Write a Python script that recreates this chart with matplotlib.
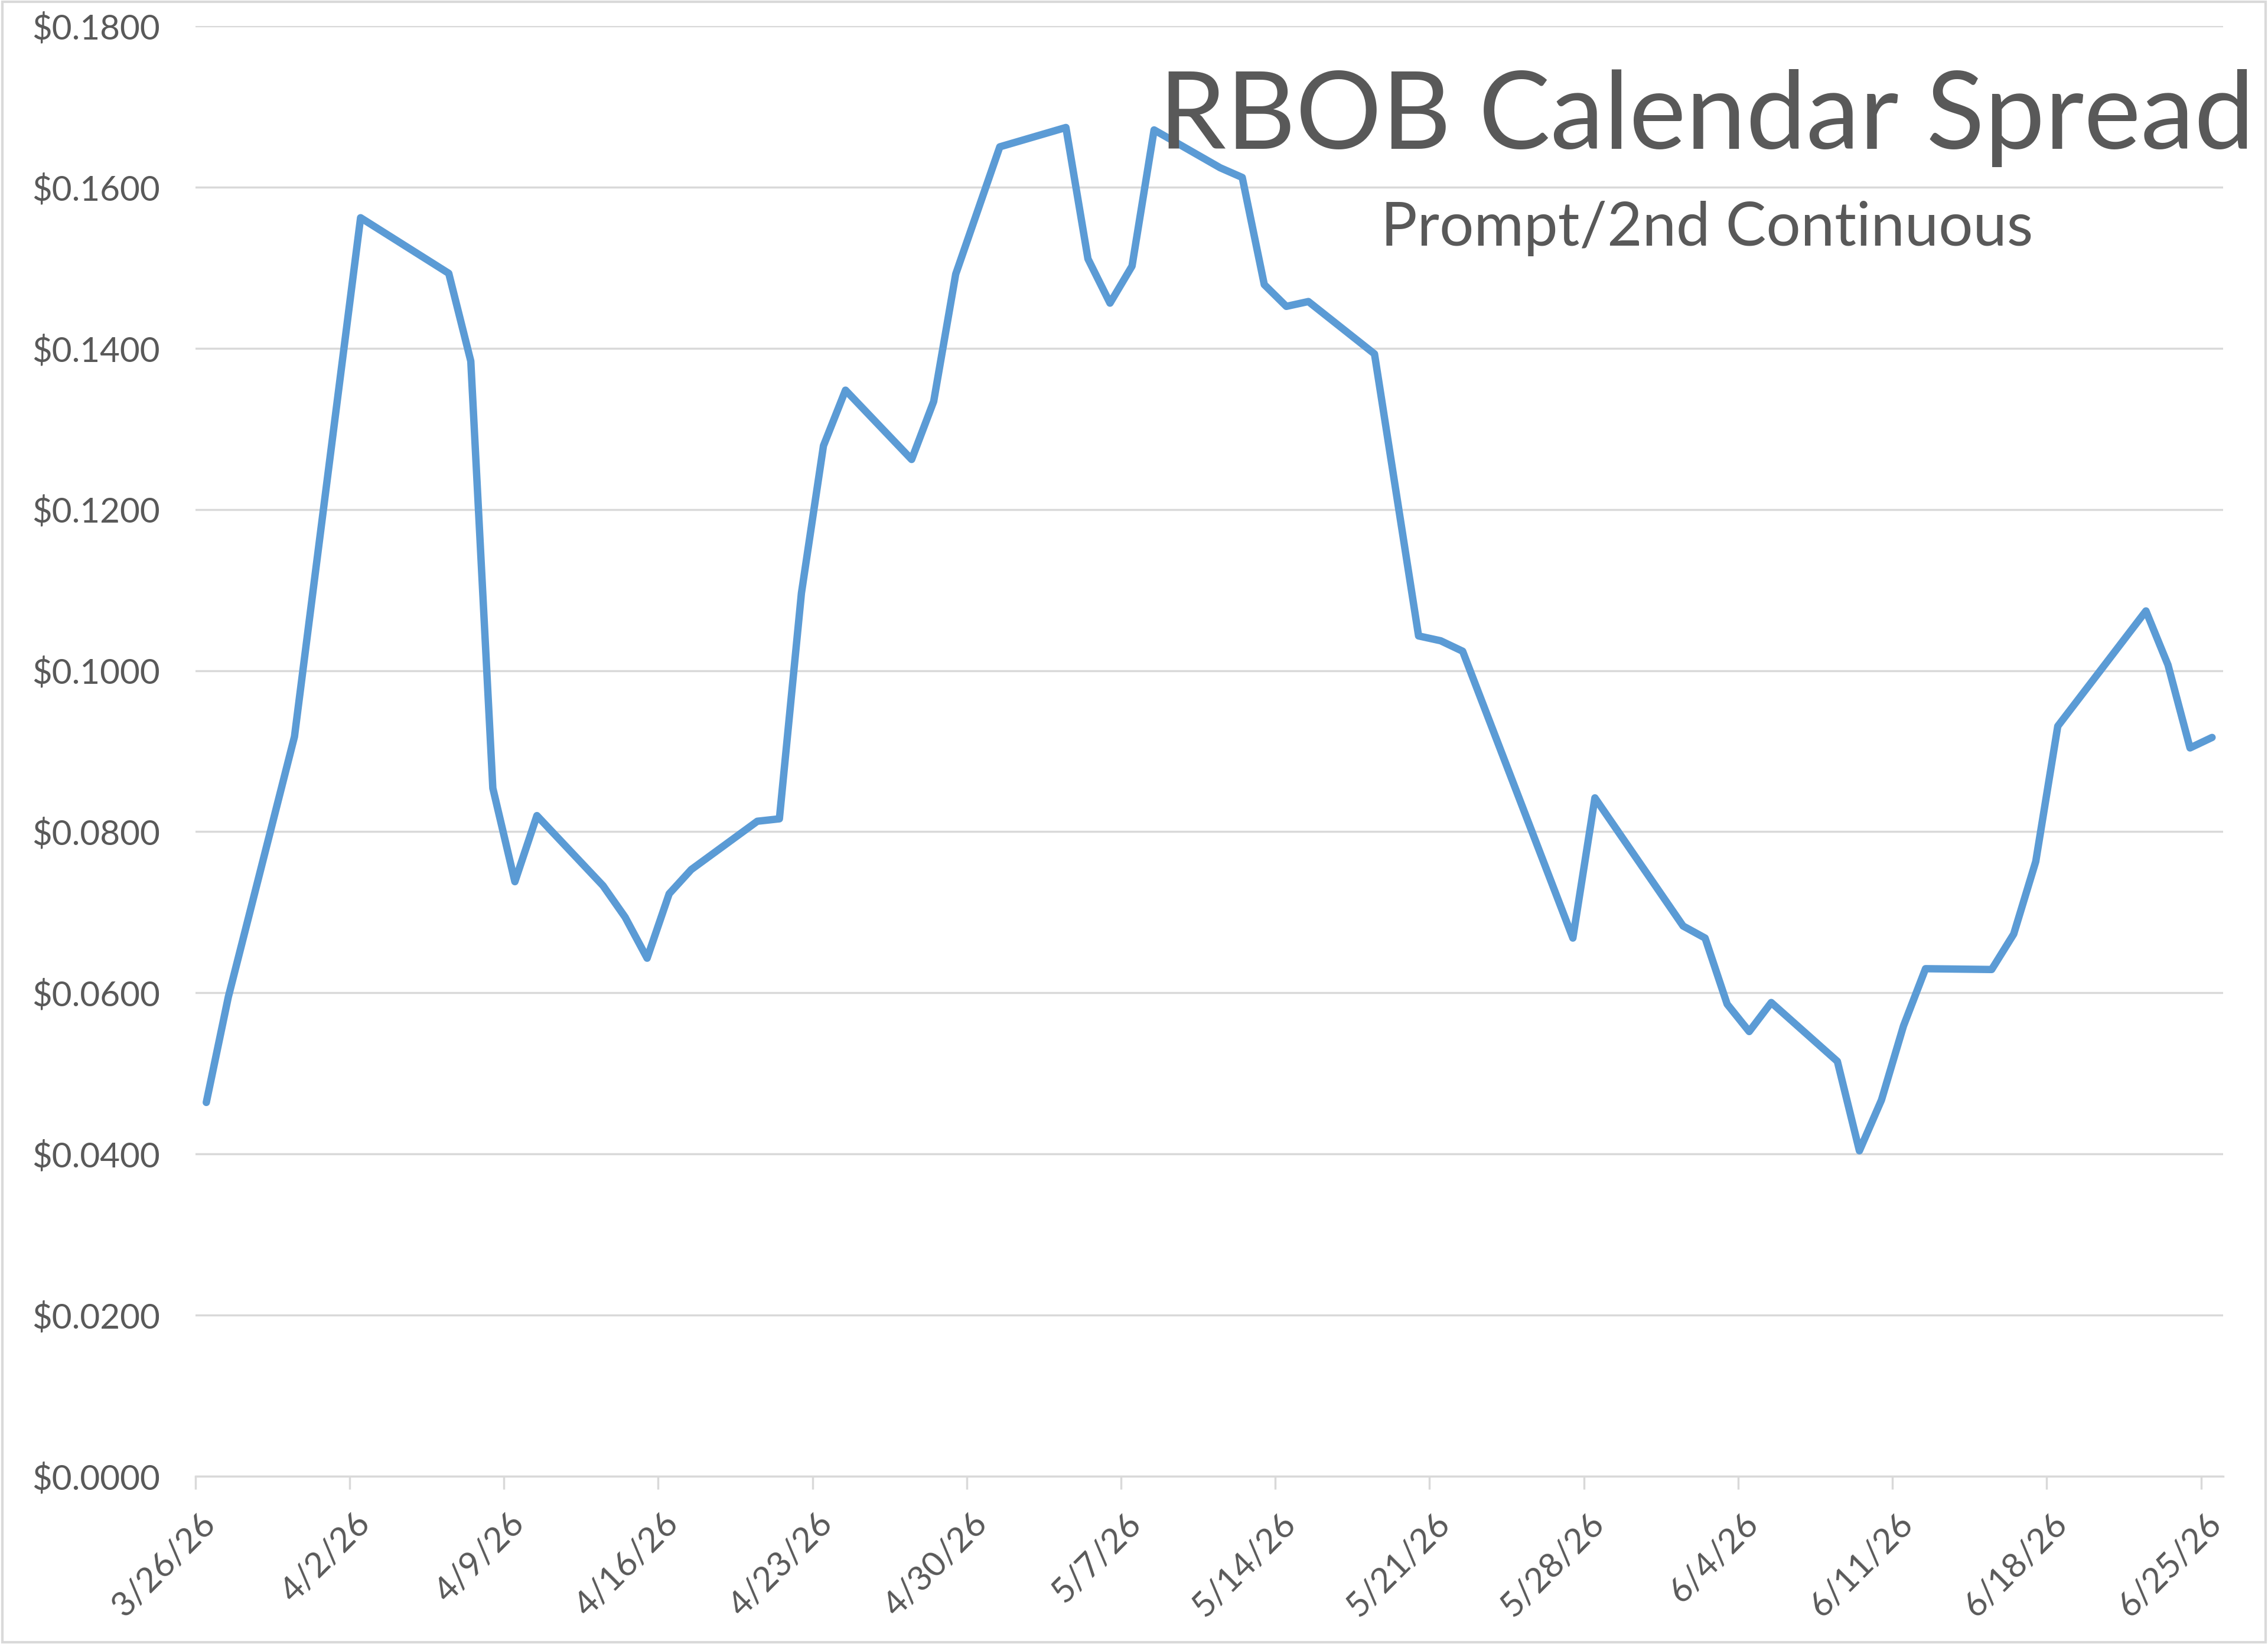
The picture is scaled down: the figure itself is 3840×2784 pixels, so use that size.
# RBOB calendar spread (prompt/2nd continuous) - line chart recreation
import datetime as dt
import matplotlib
matplotlib.use("Agg")
import matplotlib.pyplot as plt
import matplotlib.dates as mdates
import matplotlib.transforms as mtransforms
from matplotlib.ticker import FuncFormatter, MultipleLocator
from matplotlib.patches import Rectangle

# ========== Data ==========
DATES = [
    "2026-03-26", "2026-03-27", "2026-03-30", "2026-04-02", "2026-04-06",
    "2026-04-07", "2026-04-08", "2026-04-09", "2026-04-10", "2026-04-13",
    "2026-04-14", "2026-04-15", "2026-04-16", "2026-04-17", "2026-04-20",
    "2026-04-21", "2026-04-22", "2026-04-23", "2026-04-24", "2026-04-27",
    "2026-04-28", "2026-04-29", "2026-05-01", "2026-05-04", "2026-05-05",
    "2026-05-06", "2026-05-07", "2026-05-08", "2026-05-11", "2026-05-12",
    "2026-05-13", "2026-05-14", "2026-05-15", "2026-05-18", "2026-05-20",
    "2026-05-21", "2026-05-22", "2026-05-27", "2026-05-28", "2026-06-01",
    "2026-06-02", "2026-06-03", "2026-06-04", "2026-06-05", "2026-06-08",
    "2026-06-09", "2026-06-10", "2026-06-11", "2026-06-12", "2026-06-15",
    "2026-06-16", "2026-06-17", "2026-06-18", "2026-06-22", "2026-06-23",
    "2026-06-24", "2026-06-25",
]
SPREAD = [
    0.0464, 0.0595, 0.0918, 0.1562, 0.1493,
    0.1384, 0.0854, 0.0738, 0.0820, 0.0733,
    0.0694, 0.0643, 0.0723, 0.0753, 0.0813,
    0.0816, 0.1096, 0.1279, 0.1348, 0.1262,
    0.1334, 0.1492, 0.1650, 0.1674, 0.1511,
    0.1456, 0.1502, 0.1671, 0.1624, 0.1612,
    0.1479, 0.1452, 0.1458, 0.1393, 0.1043,
    0.1037, 0.1024, 0.0668, 0.0842, 0.0683,
    0.0668, 0.0586, 0.0552, 0.0588, 0.0515,
    0.0404, 0.0467, 0.0559, 0.0630, 0.0629,
    0.0673, 0.0763, 0.0931, 0.1074, 0.1007,
    0.0904, 0.0917,
]
AXIS_START = "2026-03-26"
AXIS_END = "2026-06-26"
TITLE = "RBOB Calendar Spread"
SUBTITLE = "Prompt/2nd Continuous"

# ========== Style ==========
LINE_BLUE = "#5B9BD5"
TEXT_GREY = "#595959"
GRID_GREY = "#D9D9D9"
FONT = ["Lato", "DejaVu Sans"]

plt.rcParams["font.family"] = FONT


def to_num(s):
    return mdates.date2num(dt.datetime.strptime(s, "%Y-%m-%d"))


def main():
    fig = plt.figure(figsize=(38.4, 27.84), dpi=100)
    ax = fig.add_axes([0.0861, 0.1020, 0.9802 - 0.0861, 0.9842 - 0.1020])

    # Excel date axis puts each point in the middle of its day
    x = [to_num(d) + 0.5 for d in DATES]
    ax.plot(x, SPREAD, color=LINE_BLUE, lw=9, solid_joinstyle="round",
            solid_capstyle="round", zorder=3)

    ax.set_xlim(to_num(AXIS_START), to_num(AXIS_END))
    ax.set_ylim(0, 0.18)
    ax.yaxis.set_major_locator(MultipleLocator(0.02))
    ax.yaxis.set_major_formatter(FuncFormatter(lambda v, p: f"${v:.4f}"))

    ticks = [to_num(AXIS_START) + 7 * i for i in range(14)]
    ax.set_xticks(ticks)
    ax.set_xticklabels([f"{mdates.num2date(t).month}/{mdates.num2date(t).day}/26"
                        for t in ticks])

    ax.grid(axis="y", color=GRID_GREY, lw=2.5)
    ax.set_axisbelow(True)
    for side in ["left", "right", "top"]:
        ax.spines[side].set_visible(False)
    ax.spines["bottom"].set_color(GRID_GREY)
    ax.spines["bottom"].set_linewidth(2.5)

    ax.tick_params(axis="y", length=0, pad=43, labelsize=42, labelcolor=TEXT_GREY)
    ax.tick_params(axis="x", length=16, width=2.5, color=GRID_GREY, pad=22,
                   labelsize=42, labelcolor=TEXT_GREY)
    shift = mtransforms.ScaledTranslation(0.07, 0, fig.dpi_scale_trans)
    for lbl in ax.get_xticklabels():
        lbl.set_rotation(45)
        lbl.set_ha("right")
        lbl.set_va("top")
        lbl.set_rotation_mode("anchor")
        lbl.set_transform(lbl.get_transform() + shift)

    fig.text(0.7526, 0.9094, TITLE, ha="center", va="baseline",
             fontsize=131, color=TEXT_GREY)
    fig.text(0.7526, 0.8505, SUBTITLE, ha="center", va="baseline",
             fontsize=74, color=TEXT_GREY)

    # light chart-area border
    fig.add_artist(Rectangle((0.001, 0.001), 0.998, 0.998, transform=fig.transFigure,
                             fill=False, edgecolor=GRID_GREY, lw=3))

    fig.savefig("out.png", dpi=100, facecolor="white")


if __name__ == "__main__":
    main()
